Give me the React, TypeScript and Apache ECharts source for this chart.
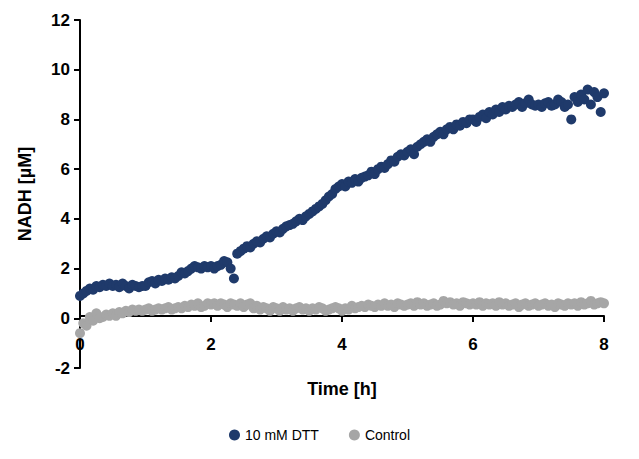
import { useEffect, useRef } from 'react';
import * as echarts from 'echarts';

const TIME_STEP = 0.05;

const DTT = [
  0.9, 1.0, 1.1, 1.2, 1.15, 1.3, 1.25, 1.35, 1.3, 1.4,
  1.3, 1.35, 1.25, 1.4, 1.3, 1.2, 1.35, 1.3, 1.25, 1.3,
  1.3, 1.45, 1.5, 1.4, 1.55, 1.5, 1.6, 1.55, 1.65, 1.6,
  1.7, 1.85, 1.8, 1.9, 2.0, 2.1, 2.05, 2.0, 2.1, 2.05,
  2.1, 2.0, 2.1, 2.15, 2.3, 2.25, 2.0, 1.6, 2.6, 2.7,
  2.8, 2.9, 2.85, 3.0, 3.1, 3.05, 3.2, 3.3, 3.25, 3.4,
  3.5, 3.45, 3.6, 3.7, 3.75, 3.8, 3.9, 4.0, 3.95, 4.1,
  4.2, 4.3, 4.4, 4.5, 4.6, 4.75, 4.9, 5.0, 5.2, 5.3,
  5.4, 5.3, 5.5, 5.45, 5.6, 5.5, 5.65, 5.7, 5.75, 5.9,
  5.8, 6.0, 6.1, 6.05, 6.2, 6.35, 6.3, 6.5, 6.6, 6.55,
  6.7, 6.8, 6.6, 6.9, 7.0, 7.1, 7.2, 7.1, 7.3, 7.4,
  7.5, 7.4, 7.6, 7.7, 7.6, 7.8, 7.75, 7.9, 7.85, 8.0,
  8.0, 7.9, 8.1, 8.2, 8.05, 8.3, 8.2, 8.4, 8.3, 8.5,
  8.4, 8.55, 8.5, 8.6, 8.7, 8.5, 8.65, 8.8, 8.6, 8.55,
  8.6, 8.5, 8.65, 8.7, 8.55, 8.6, 8.8, 8.7, 8.5, 8.6,
  8.0, 8.9, 8.7, 9.0, 8.8, 9.2, 8.6, 9.1, 8.9, 8.3,
  9.05,
];

const CONTROL = [
  -0.6, -0.2, -0.3, 0.05, -0.1, 0.2, 0.0, 0.05, 0.15, 0.1,
  0.2, 0.1, 0.25, 0.2, 0.3, 0.25, 0.35, 0.3, 0.35, 0.3,
  0.35, 0.4, 0.3, 0.35, 0.4, 0.35, 0.4, 0.45, 0.35, 0.4,
  0.45, 0.4, 0.5, 0.45, 0.55, 0.5, 0.6, 0.45, 0.5, 0.6,
  0.55, 0.6, 0.5, 0.6, 0.55, 0.45, 0.6, 0.55, 0.5, 0.6,
  0.45, 0.55, 0.6, 0.4, 0.5, 0.35, 0.45, 0.4, 0.3, 0.45,
  0.4, 0.3, 0.45, 0.35, 0.4, 0.3, 0.4, 0.45, 0.35, 0.4,
  0.3, 0.4, 0.35, 0.45, 0.4, 0.3, 0.35, 0.4, 0.45, 0.4,
  0.3, 0.4, 0.35, 0.5, 0.4, 0.45, 0.5, 0.45, 0.55, 0.5,
  0.45, 0.55, 0.5, 0.6, 0.5, 0.55, 0.45, 0.6, 0.55, 0.5,
  0.55, 0.6, 0.5, 0.65, 0.55, 0.6, 0.5, 0.55, 0.6, 0.5,
  0.55, 0.7, 0.6, 0.65, 0.55, 0.6, 0.5, 0.65, 0.6, 0.55,
  0.6, 0.55, 0.65, 0.5, 0.6, 0.55, 0.6, 0.5, 0.65, 0.55,
  0.6, 0.5, 0.55, 0.6, 0.45, 0.55, 0.6, 0.5, 0.55, 0.6,
  0.5, 0.55, 0.6, 0.5, 0.55, 0.45, 0.6, 0.55, 0.5, 0.6,
  0.55, 0.6, 0.5, 0.65, 0.55, 0.6, 0.7, 0.55, 0.6, 0.65,
  0.6,
];

const toPoints = (vals: number[]) =>
  vals.map((v, i) => [+(i * TIME_STEP).toFixed(2), v]);

const FONT = '"Liberation Sans", Arial, sans-serif';

export default function App() {
  const ref = useRef<HTMLDivElement>(null);

  useEffect(() => {
    if (!ref.current) return;
    const chart = echarts.init(ref.current, undefined, { renderer: 'svg' });
    const axisText = { color: '#000', fontWeight: 'bold' as const, fontSize: 17, fontFamily: FONT };
    chart.setOption({
      animation: false,
      textStyle: { fontFamily: FONT },
      grid: { left: 68, right: 27, top: 12, bottom: 83 },
      legend: {
        bottom: 4,
        itemGap: 30,
        icon: 'circle',
        itemWidth: 11,
        itemHeight: 11,
        textStyle: { color: '#000', fontSize: 14, fontFamily: FONT },
        data: ['10 mM DTT', 'Control'],
      },
      xAxis: {
        type: 'value',
        min: 0,
        max: 8,
        interval: 2,
        offset: -52,
        name: 'Time [h]',
        nameLocation: 'middle',
        nameGap: 64,
        nameTextStyle: { ...axisText, fontSize: 18 },
        axisLine: { onZero: false, lineStyle: { color: '#000', width: 2 } },
        axisTick: { lineStyle: { color: '#000', width: 2 }, length: 6 },
        axisLabel: { ...axisText, margin: 20 },
        splitLine: { show: false },
      },
      yAxis: {
        type: 'value',
        min: -2,
        max: 12,
        interval: 2,
        name: 'NADH [µM]',
        nameLocation: 'middle',
        nameGap: 46,
        nameTextStyle: { ...axisText, fontSize: 18 },
        axisLine: { show: true, onZero: false, lineStyle: { color: '#000', width: 2 } },
        axisTick: { show: true, lineStyle: { color: '#000', width: 2 }, length: 6 },
        axisLabel: { ...axisText, margin: 10 },
        splitLine: { show: false },
      },
      series: [
        {
          name: 'Control',
          type: 'scatter',
          data: toPoints(CONTROL),
          symbolSize: 10,
          itemStyle: { color: '#a6a6a6', opacity: 1 },
        },
        {
          name: '10 mM DTT',
          type: 'scatter',
          data: toPoints(DTT),
          symbolSize: 10,
          itemStyle: { color: '#1f3a6b', opacity: 1 },
        },
      ],
    });
    return () => chart.dispose();
  }, []);

  return <div ref={ref} style={{ width: 623, height: 443 }} />;
}
